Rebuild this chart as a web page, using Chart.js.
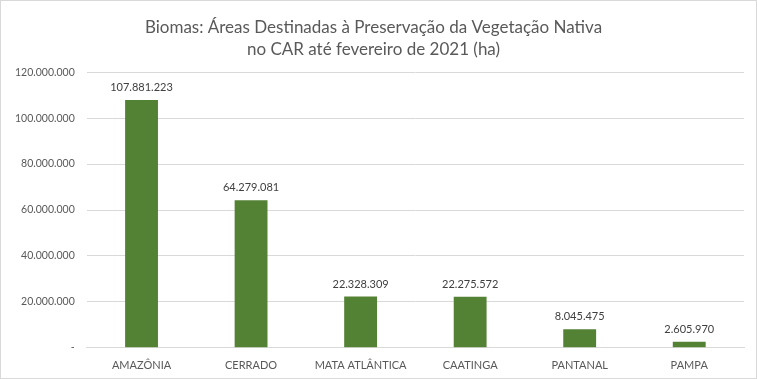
<!DOCTYPE html>
<html>
<head>
<meta charset="utf-8">
<script src="https://cdn.jsdelivr.net/npm/chart.js@4.4.1/dist/chart.umd.min.js"></script>
<style>
  html, body { margin: 0; padding: 0; background: #fff; }
  #wrap { position: relative; width: 755px; height: 377px; border: 1px solid #d9d9d9; }
</style>
</head>
<body>
<div id="wrap"><canvas id="chart"></canvas></div>
<script>
// ── Data ──────────────────────────────────────────────────────────────────────
const BIOMAS = ['AMAZÔNIA', 'CERRADO', 'MATA ATLÂNTICA', 'CAATINGA', 'PANTANAL', 'PAMPA'];
const AREAS  = [107881223, 64279081, 22328309, 22275572, 8045475, 2605970];
const TITLE  = ['Biomas: Áreas Destinadas à Preservação da Vegetação Nativa', 'no CAR até fevereiro de 2021 (ha)'];

const FONT = 'Lato, "Open Sans", sans-serif';

function fmt(n) {
  if (n === 0) return '-';
  return String(Math.round(n)).replace(/\B(?=(\d{3})+(?!\d))/g, '.');
}

// values above the bars
const barLabels = {
  id: 'barLabels',
  afterDatasetsDraw(chart) {
    const { ctx } = chart;
    const meta = chart.getDatasetMeta(0);
    ctx.save();
    ctx.font = '11px ' + FONT;
    ctx.fillStyle = '#404040';
    ctx.textAlign = 'center';
    ctx.textBaseline = 'bottom';
    meta.data.forEach((bar, i) => {
      ctx.fillText(fmt(AREAS[i]), bar.x, bar.y - 7);
    });
    ctx.restore();
  }
};

new Chart(document.getElementById('chart'), {
  type: 'bar',
  data: {
    labels: BIOMAS,
    datasets: [{
      data: AREAS,
      backgroundColor: '#548235',
      barPercentage: 0.6,
      categoryPercentage: 0.5,
    }]
  },
  options: {
    responsive: true, maintainAspectRatio: false,
    animation: false,
    layout: { padding: { left: 2, right: 12, top: 0, bottom: 3 } },
    plugins: {
      legend: { display: false },
      tooltip: { enabled: false },
      title: {
        display: true, text: TITLE, color: '#595959',
        font: { family: FONT, size: 17, weight: 'normal', lineHeight: 1.3 },
        padding: { top: 15, bottom: 12 },
      },
    },
    scales: {
      x: {
        grid: { display: false },
        border: { color: '#d9d9d9' },
        ticks: { color: '#595959', font: { family: FONT, size: 11 }, padding: 3, maxRotation: 0, autoSkip: false },
      },
      y: {
        min: 0, max: 120000000,
        ticks: { stepSize: 20000000, color: '#595959', font: { family: FONT, size: 10.5 }, padding: 12, callback: v => fmt(v) },
        grid: { color: '#d9d9d9', drawTicks: false },
        border: { display: false },
      },
    },
  },
  plugins: [barLabels],
});
</script>
</body>
</html>
